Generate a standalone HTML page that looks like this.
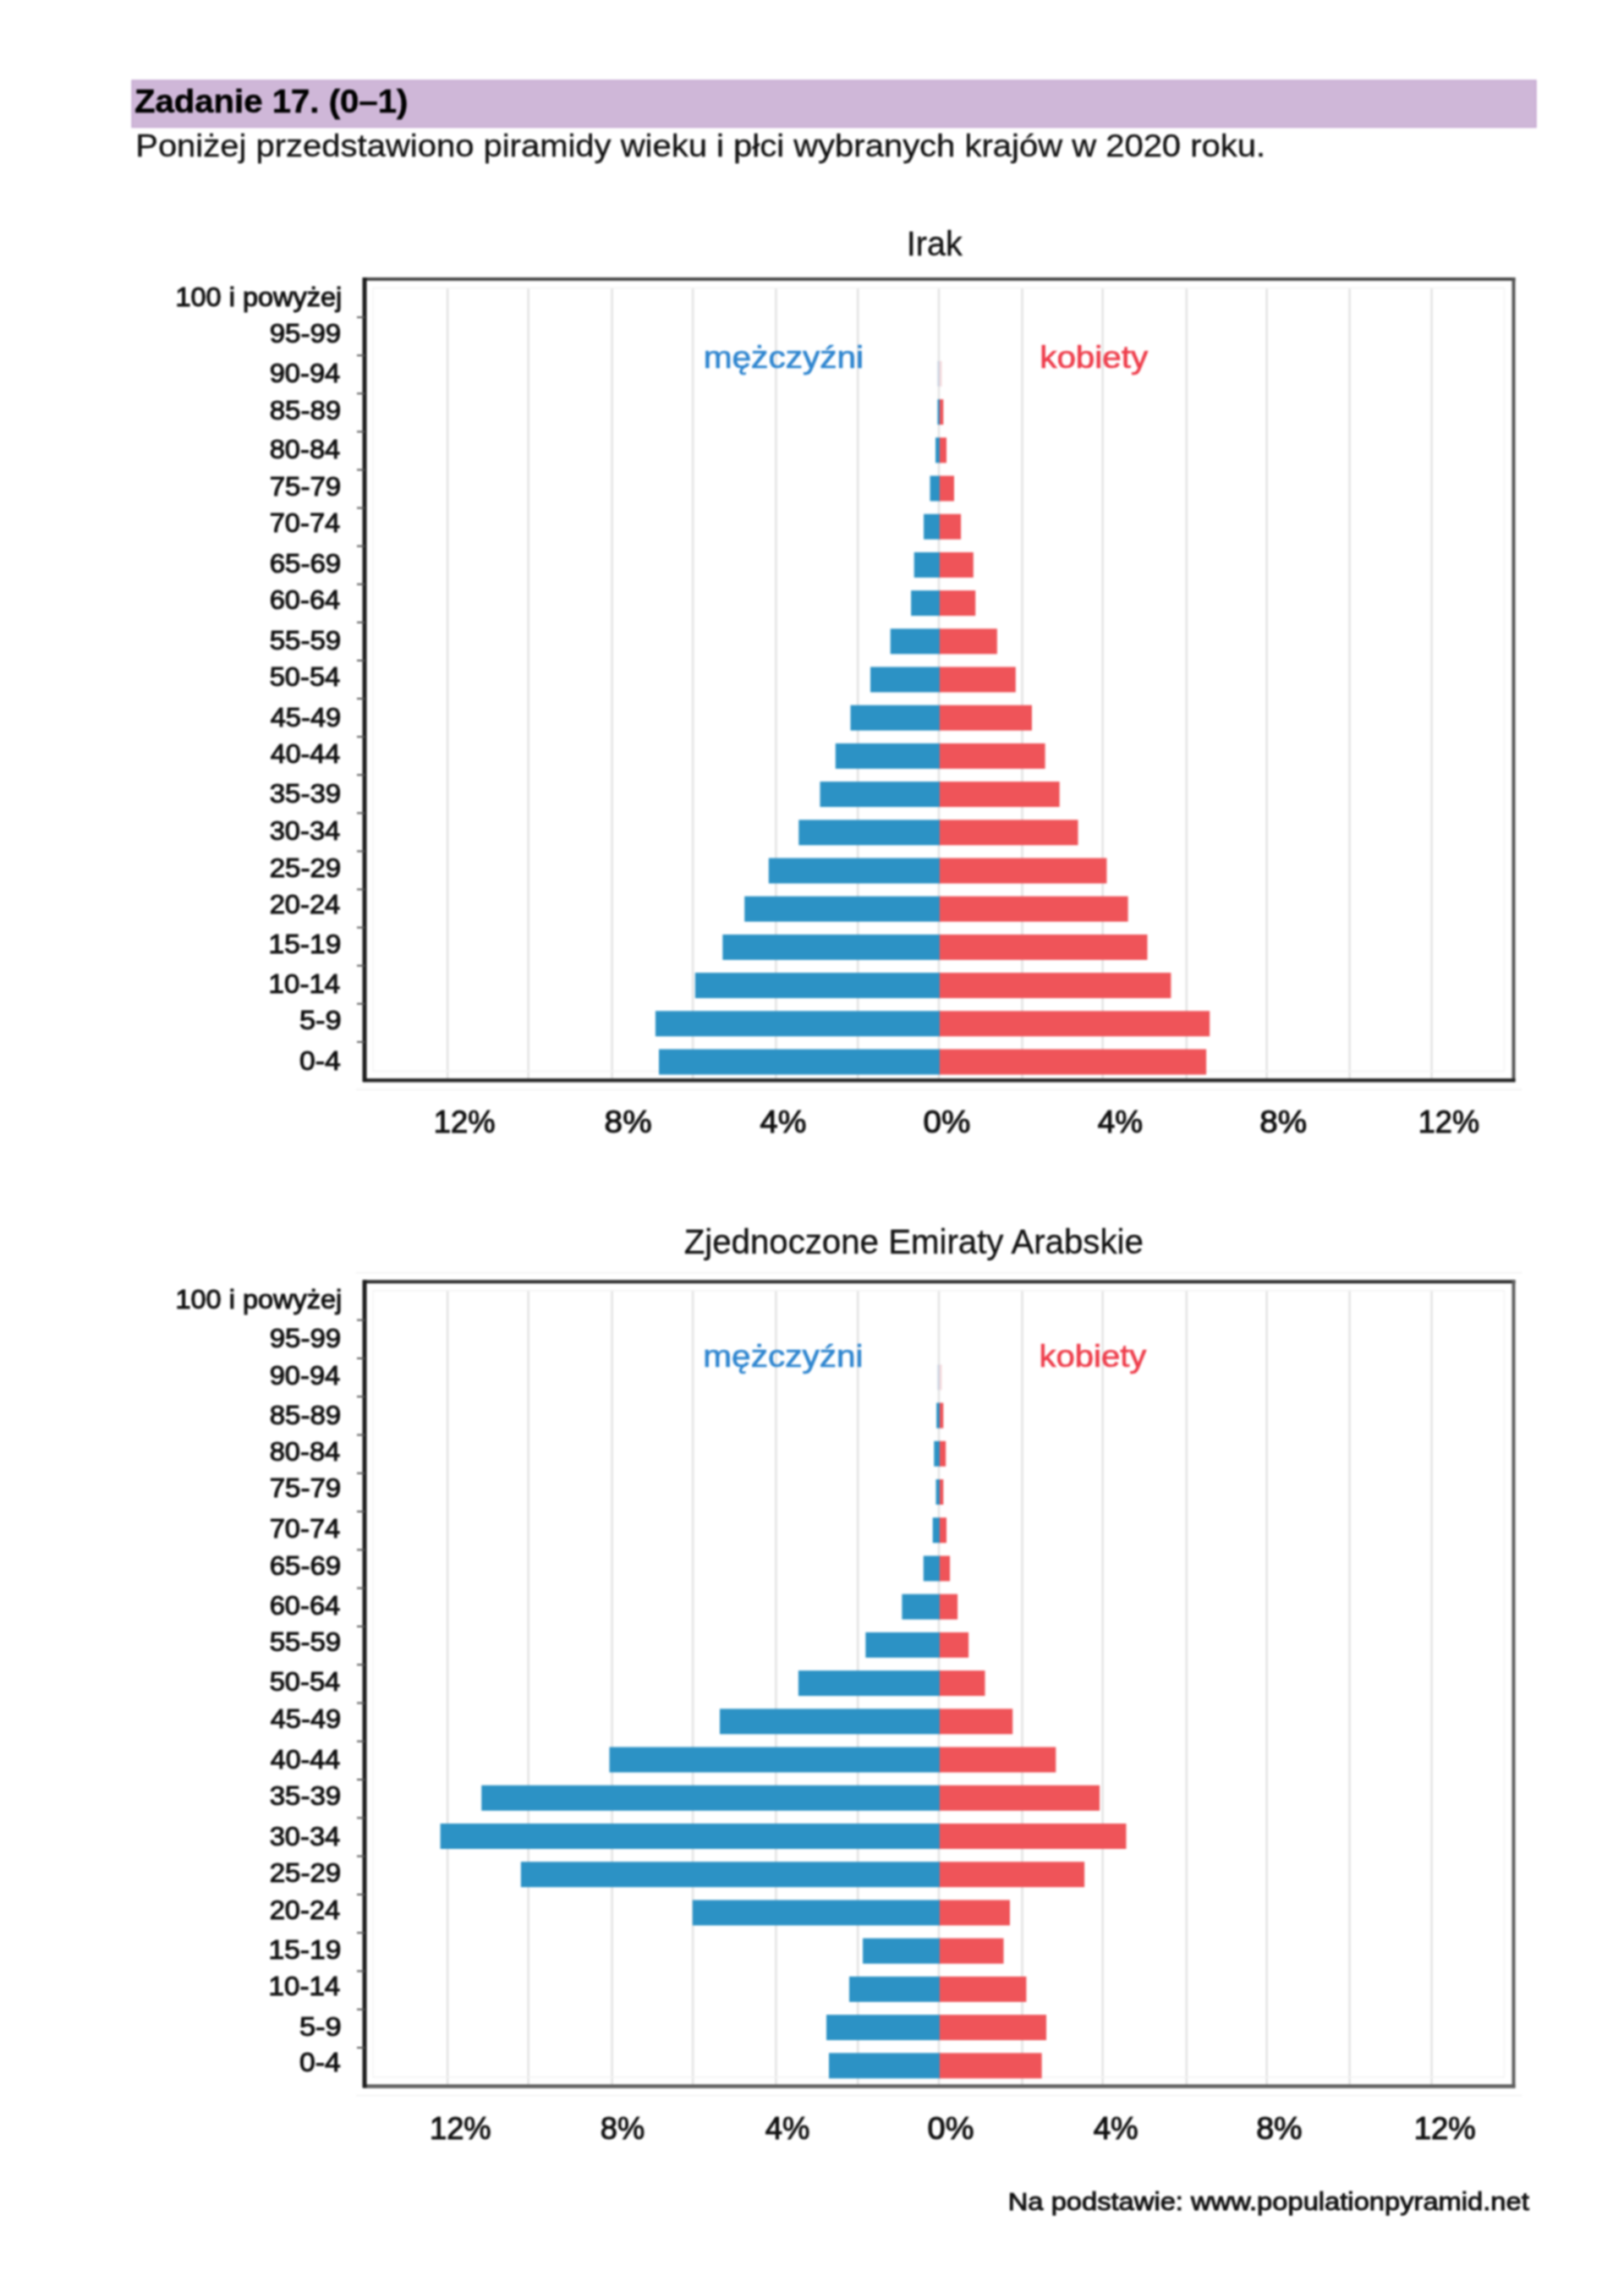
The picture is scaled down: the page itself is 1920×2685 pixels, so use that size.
<!DOCTYPE html>
<html><head><meta charset="utf-8"><title>Zadanie 17</title>
<style>
html,body{margin:0;padding:0;background:#fff;}
body{width:1920px;height:2685px;overflow:hidden;position:relative;}
svg{position:absolute;left:0;top:0;display:block;font-family:"Liberation Sans", sans-serif;filter:blur(1.0px);}
</style></head><body>
<svg width="1920" height="2685" viewBox="0 0 1920 2685">
<rect x="0" y="0" width="1920" height="2685" fill="#fff"/>
<rect x="156.00" y="95.00" width="1660.00" height="55.50" fill="#cfb7d8" stroke="#c6aad2" stroke-width="1.5"/>
<rect x="527.85" y="340.00" width="2.50" height="937.00" fill="#e3e3e3"/>
<rect x="623.45" y="340.00" width="2.50" height="937.00" fill="#e3e3e3"/>
<rect x="722.35" y="340.00" width="2.50" height="937.00" fill="#e3e3e3"/>
<rect x="817.85" y="340.00" width="2.50" height="937.00" fill="#e3e3e3"/>
<rect x="916.15" y="340.00" width="2.50" height="937.00" fill="#e3e3e3"/>
<rect x="1012.95" y="340.00" width="2.50" height="937.00" fill="#e3e3e3"/>
<rect x="1108.75" y="340.00" width="2.50" height="937.00" fill="#e3e3e3"/>
<rect x="1207.25" y="340.00" width="2.50" height="937.00" fill="#e3e3e3"/>
<rect x="1302.45" y="340.00" width="2.50" height="937.00" fill="#e3e3e3"/>
<rect x="1401.55" y="340.00" width="2.50" height="937.00" fill="#e3e3e3"/>
<rect x="1496.45" y="340.00" width="2.50" height="937.00" fill="#e3e3e3"/>
<rect x="1594.35" y="340.00" width="2.50" height="937.00" fill="#e3e3e3"/>
<rect x="1691.35" y="340.00" width="2.50" height="937.00" fill="#e3e3e3"/>
<rect x="441" y="340.5" width="1337.5" height="926" fill="none" stroke="#f3f3f3" stroke-width="1.5"/>
<rect x="1108.40" y="426.90" width="2.50" height="30.00" fill="#c9d3e2"/>
<rect x="1110.90" y="426.90" width="2.50" height="30.00" fill="#f6d6da"/>
<rect x="1108.40" y="472.10" width="3.30" height="30.00" fill="#2c92c5"/>
<rect x="1110.90" y="472.10" width="4.40" height="30.00" fill="#ef5459"/>
<rect x="1106.00" y="517.30" width="5.70" height="30.00" fill="#2c92c5"/>
<rect x="1110.90" y="517.30" width="8.10" height="30.00" fill="#ef5459"/>
<rect x="1099.50" y="562.50" width="12.20" height="30.00" fill="#2c92c5"/>
<rect x="1110.90" y="562.50" width="17.10" height="30.00" fill="#ef5459"/>
<rect x="1092.10" y="607.70" width="19.60" height="30.00" fill="#2c92c5"/>
<rect x="1110.90" y="607.70" width="25.20" height="30.00" fill="#ef5459"/>
<rect x="1080.70" y="652.90" width="31.00" height="30.00" fill="#2c92c5"/>
<rect x="1110.90" y="652.90" width="39.90" height="30.00" fill="#ef5459"/>
<rect x="1077.10" y="698.10" width="34.60" height="30.00" fill="#2c92c5"/>
<rect x="1110.90" y="698.10" width="42.30" height="30.00" fill="#ef5459"/>
<rect x="1052.70" y="743.30" width="59.00" height="30.00" fill="#2c92c5"/>
<rect x="1110.90" y="743.30" width="67.90" height="30.00" fill="#ef5459"/>
<rect x="1029.00" y="788.50" width="82.70" height="30.00" fill="#2c92c5"/>
<rect x="1110.90" y="788.50" width="89.90" height="30.00" fill="#ef5459"/>
<rect x="1005.50" y="833.70" width="106.20" height="30.00" fill="#2c92c5"/>
<rect x="1110.90" y="833.70" width="109.10" height="30.00" fill="#ef5459"/>
<rect x="987.80" y="878.90" width="123.90" height="30.00" fill="#2c92c5"/>
<rect x="1110.90" y="878.90" width="124.70" height="30.00" fill="#ef5459"/>
<rect x="969.50" y="924.10" width="142.20" height="30.00" fill="#2c92c5"/>
<rect x="1110.90" y="924.10" width="141.80" height="30.00" fill="#ef5459"/>
<rect x="944.30" y="969.30" width="167.40" height="30.00" fill="#2c92c5"/>
<rect x="1110.90" y="969.30" width="163.60" height="30.00" fill="#ef5459"/>
<rect x="908.80" y="1014.50" width="202.90" height="30.00" fill="#2c92c5"/>
<rect x="1110.90" y="1014.50" width="197.50" height="30.00" fill="#ef5459"/>
<rect x="880.20" y="1059.70" width="231.50" height="30.00" fill="#2c92c5"/>
<rect x="1110.90" y="1059.70" width="222.70" height="30.00" fill="#ef5459"/>
<rect x="854.30" y="1104.90" width="257.40" height="30.00" fill="#2c92c5"/>
<rect x="1110.90" y="1104.90" width="245.60" height="30.00" fill="#ef5459"/>
<rect x="821.80" y="1150.10" width="289.90" height="30.00" fill="#2c92c5"/>
<rect x="1110.90" y="1150.10" width="273.50" height="30.00" fill="#ef5459"/>
<rect x="774.90" y="1195.30" width="336.80" height="30.00" fill="#2c92c5"/>
<rect x="1110.90" y="1195.30" width="319.30" height="30.00" fill="#ef5459"/>
<rect x="779.00" y="1240.50" width="332.70" height="30.00" fill="#2c92c5"/>
<rect x="1110.90" y="1240.50" width="315.20" height="30.00" fill="#ef5459"/>
<rect x="421.00" y="1287.50" width="1378.50" height="1.50" fill="#f1f1f1"/>
<rect x="429.00" y="328.00" width="1362.50" height="4.00" fill="#4a4a4a"/>
<rect x="1787.50" y="328.00" width="4.00" height="951.00" fill="#555"/>
<rect x="429.00" y="1275.00" width="1362.50" height="4.50" fill="#262626"/>
<rect x="428.50" y="328.00" width="5.00" height="951.00" fill="#1a1a1a"/>
<rect x="422.00" y="374.10" width="9.00" height="2.00" fill="#5a5a5a"/>
<rect x="422.00" y="419.19" width="9.00" height="2.00" fill="#5a5a5a"/>
<rect x="422.00" y="464.29" width="9.00" height="2.00" fill="#5a5a5a"/>
<rect x="422.00" y="509.38" width="9.00" height="2.00" fill="#5a5a5a"/>
<rect x="422.00" y="554.48" width="9.00" height="2.00" fill="#5a5a5a"/>
<rect x="422.00" y="599.57" width="9.00" height="2.00" fill="#5a5a5a"/>
<rect x="422.00" y="644.67" width="9.00" height="2.00" fill="#5a5a5a"/>
<rect x="422.00" y="689.76" width="9.00" height="2.00" fill="#5a5a5a"/>
<rect x="422.00" y="734.86" width="9.00" height="2.00" fill="#5a5a5a"/>
<rect x="422.00" y="779.95" width="9.00" height="2.00" fill="#5a5a5a"/>
<rect x="422.00" y="825.05" width="9.00" height="2.00" fill="#5a5a5a"/>
<rect x="422.00" y="870.14" width="9.00" height="2.00" fill="#5a5a5a"/>
<rect x="422.00" y="915.24" width="9.00" height="2.00" fill="#5a5a5a"/>
<rect x="422.00" y="960.33" width="9.00" height="2.00" fill="#5a5a5a"/>
<rect x="422.00" y="1005.43" width="9.00" height="2.00" fill="#5a5a5a"/>
<rect x="422.00" y="1050.52" width="9.00" height="2.00" fill="#5a5a5a"/>
<rect x="422.00" y="1095.62" width="9.00" height="2.00" fill="#5a5a5a"/>
<rect x="422.00" y="1140.71" width="9.00" height="2.00" fill="#5a5a5a"/>
<rect x="422.00" y="1185.81" width="9.00" height="2.00" fill="#5a5a5a"/>
<rect x="422.00" y="1230.90" width="9.00" height="2.00" fill="#5a5a5a"/>
<rect x="527.85" y="1525.40" width="2.50" height="940.90" fill="#e3e3e3"/>
<rect x="623.45" y="1525.40" width="2.50" height="940.90" fill="#e3e3e3"/>
<rect x="722.35" y="1525.40" width="2.50" height="940.90" fill="#e3e3e3"/>
<rect x="817.85" y="1525.40" width="2.50" height="940.90" fill="#e3e3e3"/>
<rect x="916.15" y="1525.40" width="2.50" height="940.90" fill="#e3e3e3"/>
<rect x="1012.95" y="1525.40" width="2.50" height="940.90" fill="#e3e3e3"/>
<rect x="1108.75" y="1525.40" width="2.50" height="940.90" fill="#e3e3e3"/>
<rect x="1207.25" y="1525.40" width="2.50" height="940.90" fill="#e3e3e3"/>
<rect x="1302.45" y="1525.40" width="2.50" height="940.90" fill="#e3e3e3"/>
<rect x="1401.55" y="1525.40" width="2.50" height="940.90" fill="#e3e3e3"/>
<rect x="1496.45" y="1525.40" width="2.50" height="940.90" fill="#e3e3e3"/>
<rect x="1594.35" y="1525.40" width="2.50" height="940.90" fill="#e3e3e3"/>
<rect x="1691.35" y="1525.40" width="2.50" height="940.90" fill="#e3e3e3"/>
<rect x="441" y="1525.9" width="1337.5" height="929.9000000000001" fill="none" stroke="#f3f3f3" stroke-width="1.5"/>
<rect x="1108.40" y="1613.34" width="2.50" height="30.00" fill="#c9d3e2"/>
<rect x="1110.90" y="1613.34" width="2.50" height="30.00" fill="#f6d6da"/>
<rect x="1107.10" y="1658.56" width="4.60" height="30.00" fill="#2c92c5"/>
<rect x="1110.90" y="1658.56" width="4.40" height="30.00" fill="#ef5459"/>
<rect x="1104.30" y="1703.78" width="7.40" height="30.00" fill="#2c92c5"/>
<rect x="1110.90" y="1703.78" width="7.30" height="30.00" fill="#ef5459"/>
<rect x="1106.50" y="1749.00" width="5.20" height="30.00" fill="#2c92c5"/>
<rect x="1110.90" y="1749.00" width="4.40" height="30.00" fill="#ef5459"/>
<rect x="1102.70" y="1794.22" width="9.00" height="30.00" fill="#2c92c5"/>
<rect x="1110.90" y="1794.22" width="8.10" height="30.00" fill="#ef5459"/>
<rect x="1091.80" y="1839.44" width="19.90" height="30.00" fill="#2c92c5"/>
<rect x="1110.90" y="1839.44" width="12.20" height="30.00" fill="#ef5459"/>
<rect x="1066.40" y="1884.66" width="45.30" height="30.00" fill="#2c92c5"/>
<rect x="1110.90" y="1884.66" width="21.20" height="30.00" fill="#ef5459"/>
<rect x="1023.30" y="1929.88" width="88.40" height="30.00" fill="#2c92c5"/>
<rect x="1110.90" y="1929.88" width="34.20" height="30.00" fill="#ef5459"/>
<rect x="943.90" y="1975.10" width="167.80" height="30.00" fill="#2c92c5"/>
<rect x="1110.90" y="1975.10" width="53.60" height="30.00" fill="#ef5459"/>
<rect x="851.00" y="2020.32" width="260.70" height="30.00" fill="#2c92c5"/>
<rect x="1110.90" y="2020.32" width="86.30" height="30.00" fill="#ef5459"/>
<rect x="720.50" y="2065.54" width="391.20" height="30.00" fill="#2c92c5"/>
<rect x="1110.90" y="2065.54" width="137.40" height="30.00" fill="#ef5459"/>
<rect x="569.20" y="2110.76" width="542.50" height="30.00" fill="#2c92c5"/>
<rect x="1110.90" y="2110.76" width="189.20" height="30.00" fill="#ef5459"/>
<rect x="520.60" y="2155.98" width="591.10" height="30.00" fill="#2c92c5"/>
<rect x="1110.90" y="2155.98" width="220.60" height="30.00" fill="#ef5459"/>
<rect x="615.80" y="2201.20" width="495.90" height="30.00" fill="#2c92c5"/>
<rect x="1110.90" y="2201.20" width="171.20" height="30.00" fill="#ef5459"/>
<rect x="818.80" y="2246.42" width="292.90" height="30.00" fill="#2c92c5"/>
<rect x="1110.90" y="2246.42" width="83.10" height="30.00" fill="#ef5459"/>
<rect x="1020.10" y="2291.64" width="91.60" height="30.00" fill="#2c92c5"/>
<rect x="1110.90" y="2291.64" width="75.60" height="30.00" fill="#ef5459"/>
<rect x="1004.00" y="2336.86" width="107.70" height="30.00" fill="#2c92c5"/>
<rect x="1110.90" y="2336.86" width="102.50" height="30.00" fill="#ef5459"/>
<rect x="977.00" y="2382.08" width="134.70" height="30.00" fill="#2c92c5"/>
<rect x="1110.90" y="2382.08" width="126.10" height="30.00" fill="#ef5459"/>
<rect x="980.00" y="2427.30" width="131.70" height="30.00" fill="#2c92c5"/>
<rect x="1110.90" y="2427.30" width="120.70" height="30.00" fill="#ef5459"/>
<rect x="421.00" y="2476.80" width="1378.50" height="1.50" fill="#f1f1f1"/>
<rect x="421.00" y="1503.90" width="1378.50" height="1.50" fill="#f1f1f1"/>
<rect x="429.00" y="1513.40" width="1362.50" height="4.00" fill="#2a2a2a"/>
<rect x="1787.50" y="1513.40" width="4.00" height="954.90" fill="#5e5e5e"/>
<rect x="429.00" y="2464.30" width="1362.50" height="4.50" fill="#5e5e5e"/>
<rect x="428.50" y="1513.40" width="5.00" height="954.90" fill="#1a1a1a"/>
<rect x="422.00" y="1559.68" width="9.00" height="2.00" fill="#5a5a5a"/>
<rect x="422.00" y="1604.96" width="9.00" height="2.00" fill="#5a5a5a"/>
<rect x="422.00" y="1650.24" width="9.00" height="2.00" fill="#5a5a5a"/>
<rect x="422.00" y="1695.52" width="9.00" height="2.00" fill="#5a5a5a"/>
<rect x="422.00" y="1740.80" width="9.00" height="2.00" fill="#5a5a5a"/>
<rect x="422.00" y="1786.09" width="9.00" height="2.00" fill="#5a5a5a"/>
<rect x="422.00" y="1831.37" width="9.00" height="2.00" fill="#5a5a5a"/>
<rect x="422.00" y="1876.65" width="9.00" height="2.00" fill="#5a5a5a"/>
<rect x="422.00" y="1921.93" width="9.00" height="2.00" fill="#5a5a5a"/>
<rect x="422.00" y="1967.21" width="9.00" height="2.00" fill="#5a5a5a"/>
<rect x="422.00" y="2012.49" width="9.00" height="2.00" fill="#5a5a5a"/>
<rect x="422.00" y="2057.77" width="9.00" height="2.00" fill="#5a5a5a"/>
<rect x="422.00" y="2103.05" width="9.00" height="2.00" fill="#5a5a5a"/>
<rect x="422.00" y="2148.33" width="9.00" height="2.00" fill="#5a5a5a"/>
<rect x="422.00" y="2193.61" width="9.00" height="2.00" fill="#5a5a5a"/>
<rect x="422.00" y="2238.90" width="9.00" height="2.00" fill="#5a5a5a"/>
<rect x="422.00" y="2284.18" width="9.00" height="2.00" fill="#5a5a5a"/>
<rect x="422.00" y="2329.46" width="9.00" height="2.00" fill="#5a5a5a"/>
<rect x="422.00" y="2374.74" width="9.00" height="2.00" fill="#5a5a5a"/>
<rect x="422.00" y="2420.02" width="9.00" height="2.00" fill="#5a5a5a"/>
<text x="158.94" y="132.75" font-size="38" font-weight="bold" fill="#000" stroke="#000" stroke-width="0.5" textLength="323.38" lengthAdjust="spacingAndGlyphs">Zadanie 17. (0–1)</text>
<text x="160.21" y="184.62" font-size="36.5" font-weight="normal" fill="#111" stroke="#111" stroke-width="0.35" textLength="1335.95" lengthAdjust="spacingAndGlyphs">Poniżej przedstawiono piramidy wieku i płci wybranych krajów w 2020 roku.</text>
<text x="207.47" y="361.55" font-size="32" font-weight="normal" fill="#111" stroke="#111" stroke-width="1.1" textLength="196.85" lengthAdjust="spacingAndGlyphs">100 i powyżej</text>
<text x="318.67" y="404.60" font-size="32" font-weight="normal" fill="#111" stroke="#111" stroke-width="1.1" textLength="84.61" lengthAdjust="spacingAndGlyphs">95-99</text>
<text x="318.68" y="451.80" font-size="32" font-weight="normal" fill="#111" stroke="#111" stroke-width="1.1" textLength="83.56" lengthAdjust="spacingAndGlyphs">90-94</text>
<text x="318.67" y="495.50" font-size="32" font-weight="normal" fill="#111" stroke="#111" stroke-width="1.1" textLength="84.61" lengthAdjust="spacingAndGlyphs">85-89</text>
<text x="318.68" y="541.90" font-size="32" font-weight="normal" fill="#111" stroke="#111" stroke-width="1.1" textLength="83.56" lengthAdjust="spacingAndGlyphs">80-84</text>
<text x="318.67" y="586.20" font-size="32" font-weight="normal" fill="#111" stroke="#111" stroke-width="1.1" textLength="84.61" lengthAdjust="spacingAndGlyphs">75-79</text>
<text x="318.68" y="629.40" font-size="32" font-weight="normal" fill="#111" stroke="#111" stroke-width="1.1" textLength="83.56" lengthAdjust="spacingAndGlyphs">70-74</text>
<text x="318.67" y="677.40" font-size="32" font-weight="normal" fill="#111" stroke="#111" stroke-width="1.1" textLength="84.61" lengthAdjust="spacingAndGlyphs">65-69</text>
<text x="318.68" y="720.40" font-size="32" font-weight="normal" fill="#111" stroke="#111" stroke-width="1.1" textLength="83.56" lengthAdjust="spacingAndGlyphs">60-64</text>
<text x="318.67" y="768.40" font-size="32" font-weight="normal" fill="#111" stroke="#111" stroke-width="1.1" textLength="84.61" lengthAdjust="spacingAndGlyphs">55-59</text>
<text x="318.68" y="811.10" font-size="32" font-weight="normal" fill="#111" stroke="#111" stroke-width="1.1" textLength="83.56" lengthAdjust="spacingAndGlyphs">50-54</text>
<text x="319.70" y="858.80" font-size="32" font-weight="normal" fill="#111" stroke="#111" stroke-width="1.1" textLength="83.56" lengthAdjust="spacingAndGlyphs">45-49</text>
<text x="319.70" y="901.90" font-size="32" font-weight="normal" fill="#111" stroke="#111" stroke-width="1.1" textLength="82.54" lengthAdjust="spacingAndGlyphs">40-44</text>
<text x="318.67" y="949.20" font-size="32" font-weight="normal" fill="#111" stroke="#111" stroke-width="1.1" textLength="84.61" lengthAdjust="spacingAndGlyphs">35-39</text>
<text x="318.68" y="992.60" font-size="32" font-weight="normal" fill="#111" stroke="#111" stroke-width="1.1" textLength="83.56" lengthAdjust="spacingAndGlyphs">30-34</text>
<text x="318.67" y="1036.60" font-size="32" font-weight="normal" fill="#111" stroke="#111" stroke-width="1.1" textLength="84.61" lengthAdjust="spacingAndGlyphs">25-29</text>
<text x="318.68" y="1080.30" font-size="32" font-weight="normal" fill="#111" stroke="#111" stroke-width="1.1" textLength="83.56" lengthAdjust="spacingAndGlyphs">20-24</text>
<text x="317.61" y="1126.90" font-size="32" font-weight="normal" fill="#111" stroke="#111" stroke-width="1.1" textLength="85.68" lengthAdjust="spacingAndGlyphs">15-19</text>
<text x="317.63" y="1174.20" font-size="32" font-weight="normal" fill="#111" stroke="#111" stroke-width="1.1" textLength="84.61" lengthAdjust="spacingAndGlyphs">10-14</text>
<text x="353.92" y="1217.40" font-size="32" font-weight="normal" fill="#111" stroke="#111" stroke-width="1.1" textLength="49.82" lengthAdjust="spacingAndGlyphs">5-9</text>
<text x="353.95" y="1265.20" font-size="32" font-weight="normal" fill="#111" stroke="#111" stroke-width="1.1" textLength="48.72" lengthAdjust="spacingAndGlyphs">0-4</text>
<text x="1071.84" y="302.32" font-size="40" font-weight="normal" fill="#111" stroke="#111" stroke-width="0.35" textLength="65.85" lengthAdjust="spacingAndGlyphs">Irak</text>
<text x="831.78" y="435.15" font-size="36.5" font-weight="normal" fill="#2e85cf" stroke="#2e85cf" stroke-width="0.7" textLength="189.36" lengthAdjust="spacingAndGlyphs">mężczyźni</text>
<text x="1229.19" y="435.15" font-size="36.5" font-weight="normal" fill="#ee3e4c" stroke="#ee3e4c" stroke-width="0.7" textLength="128.03" lengthAdjust="spacingAndGlyphs">kobiety</text>
<text x="512.78" y="1339.45" font-size="36" font-weight="normal" fill="#111" stroke="#111" stroke-width="1.1" textLength="72.69" lengthAdjust="spacingAndGlyphs">12%</text>
<text x="714.63" y="1339.45" font-size="36" font-weight="normal" fill="#111" stroke="#111" stroke-width="1.1" textLength="55.88" lengthAdjust="spacingAndGlyphs">8%</text>
<text x="898.60" y="1339.45" font-size="36" font-weight="normal" fill="#111" stroke="#111" stroke-width="1.1" textLength="54.68" lengthAdjust="spacingAndGlyphs">4%</text>
<text x="1091.53" y="1339.45" font-size="36" font-weight="normal" fill="#111" stroke="#111" stroke-width="1.1" textLength="55.78" lengthAdjust="spacingAndGlyphs">0%</text>
<text x="1297.80" y="1339.45" font-size="36" font-weight="normal" fill="#111" stroke="#111" stroke-width="1.1" textLength="53.36" lengthAdjust="spacingAndGlyphs">4%</text>
<text x="1489.33" y="1339.45" font-size="36" font-weight="normal" fill="#111" stroke="#111" stroke-width="1.1" textLength="55.78" lengthAdjust="spacingAndGlyphs">8%</text>
<text x="1676.79" y="1339.45" font-size="36" font-weight="normal" fill="#111" stroke="#111" stroke-width="1.1" textLength="72.27" lengthAdjust="spacingAndGlyphs">12%</text>
<text x="207.47" y="1546.65" font-size="32" font-weight="normal" fill="#111" stroke="#111" stroke-width="1.1" textLength="196.85" lengthAdjust="spacingAndGlyphs">100 i powyżej</text>
<text x="318.67" y="1593.10" font-size="32" font-weight="normal" fill="#111" stroke="#111" stroke-width="1.1" textLength="84.61" lengthAdjust="spacingAndGlyphs">95-99</text>
<text x="318.68" y="1636.80" font-size="32" font-weight="normal" fill="#111" stroke="#111" stroke-width="1.1" textLength="83.56" lengthAdjust="spacingAndGlyphs">90-94</text>
<text x="318.67" y="1683.80" font-size="32" font-weight="normal" fill="#111" stroke="#111" stroke-width="1.1" textLength="84.61" lengthAdjust="spacingAndGlyphs">85-89</text>
<text x="318.68" y="1726.90" font-size="32" font-weight="normal" fill="#111" stroke="#111" stroke-width="1.1" textLength="83.56" lengthAdjust="spacingAndGlyphs">80-84</text>
<text x="318.67" y="1770.30" font-size="32" font-weight="normal" fill="#111" stroke="#111" stroke-width="1.1" textLength="84.61" lengthAdjust="spacingAndGlyphs">75-79</text>
<text x="318.68" y="1818.30" font-size="32" font-weight="normal" fill="#111" stroke="#111" stroke-width="1.1" textLength="83.56" lengthAdjust="spacingAndGlyphs">70-74</text>
<text x="318.67" y="1862.30" font-size="32" font-weight="normal" fill="#111" stroke="#111" stroke-width="1.1" textLength="84.61" lengthAdjust="spacingAndGlyphs">65-69</text>
<text x="318.68" y="1908.90" font-size="32" font-weight="normal" fill="#111" stroke="#111" stroke-width="1.1" textLength="83.56" lengthAdjust="spacingAndGlyphs">60-64</text>
<text x="318.67" y="1952.30" font-size="32" font-weight="normal" fill="#111" stroke="#111" stroke-width="1.1" textLength="84.61" lengthAdjust="spacingAndGlyphs">55-59</text>
<text x="318.68" y="1999.00" font-size="32" font-weight="normal" fill="#111" stroke="#111" stroke-width="1.1" textLength="83.56" lengthAdjust="spacingAndGlyphs">50-54</text>
<text x="319.70" y="2043.00" font-size="32" font-weight="normal" fill="#111" stroke="#111" stroke-width="1.1" textLength="83.56" lengthAdjust="spacingAndGlyphs">45-49</text>
<text x="319.70" y="2091.00" font-size="32" font-weight="normal" fill="#111" stroke="#111" stroke-width="1.1" textLength="82.54" lengthAdjust="spacingAndGlyphs">40-44</text>
<text x="318.67" y="2134.10" font-size="32" font-weight="normal" fill="#111" stroke="#111" stroke-width="1.1" textLength="84.61" lengthAdjust="spacingAndGlyphs">35-39</text>
<text x="318.68" y="2181.70" font-size="32" font-weight="normal" fill="#111" stroke="#111" stroke-width="1.1" textLength="83.56" lengthAdjust="spacingAndGlyphs">30-34</text>
<text x="318.67" y="2224.50" font-size="32" font-weight="normal" fill="#111" stroke="#111" stroke-width="1.1" textLength="84.61" lengthAdjust="spacingAndGlyphs">25-29</text>
<text x="318.68" y="2268.50" font-size="32" font-weight="normal" fill="#111" stroke="#111" stroke-width="1.1" textLength="83.56" lengthAdjust="spacingAndGlyphs">20-24</text>
<text x="317.61" y="2316.20" font-size="32" font-weight="normal" fill="#111" stroke="#111" stroke-width="1.1" textLength="85.68" lengthAdjust="spacingAndGlyphs">15-19</text>
<text x="317.63" y="2358.90" font-size="32" font-weight="normal" fill="#111" stroke="#111" stroke-width="1.1" textLength="84.61" lengthAdjust="spacingAndGlyphs">10-14</text>
<text x="353.92" y="2406.50" font-size="32" font-weight="normal" fill="#111" stroke="#111" stroke-width="1.1" textLength="49.82" lengthAdjust="spacingAndGlyphs">5-9</text>
<text x="353.95" y="2449.40" font-size="32" font-weight="normal" fill="#111" stroke="#111" stroke-width="1.1" textLength="48.72" lengthAdjust="spacingAndGlyphs">0-4</text>
<text x="808.69" y="1482.33" font-size="40" font-weight="normal" fill="#111" stroke="#111" stroke-width="0.35" textLength="543.18" lengthAdjust="spacingAndGlyphs">Zjednoczone Emiraty Arabskie</text>
<text x="831.38" y="1615.65" font-size="36.5" font-weight="normal" fill="#2e85cf" stroke="#2e85cf" stroke-width="0.7" textLength="189.05" lengthAdjust="spacingAndGlyphs">mężczyźni</text>
<text x="1228.51" y="1615.65" font-size="36.5" font-weight="normal" fill="#ee3e4c" stroke="#ee3e4c" stroke-width="0.7" textLength="126.82" lengthAdjust="spacingAndGlyphs">kobiety</text>
<text x="507.98" y="2529.45" font-size="36" font-weight="normal" fill="#111" stroke="#111" stroke-width="1.1" textLength="72.69" lengthAdjust="spacingAndGlyphs">12%</text>
<text x="709.79" y="2529.45" font-size="36" font-weight="normal" fill="#111" stroke="#111" stroke-width="1.1" textLength="52.45" lengthAdjust="spacingAndGlyphs">8%</text>
<text x="904.70" y="2529.45" font-size="36" font-weight="normal" fill="#111" stroke="#111" stroke-width="1.1" textLength="52.64" lengthAdjust="spacingAndGlyphs">4%</text>
<text x="1096.54" y="2529.45" font-size="36" font-weight="normal" fill="#111" stroke="#111" stroke-width="1.1" textLength="54.95" lengthAdjust="spacingAndGlyphs">0%</text>
<text x="1292.70" y="2529.45" font-size="36" font-weight="normal" fill="#111" stroke="#111" stroke-width="1.1" textLength="53.05" lengthAdjust="spacingAndGlyphs">4%</text>
<text x="1485.15" y="2529.45" font-size="36" font-weight="normal" fill="#111" stroke="#111" stroke-width="1.1" textLength="54.53" lengthAdjust="spacingAndGlyphs">8%</text>
<text x="1671.77" y="2529.45" font-size="36" font-weight="normal" fill="#111" stroke="#111" stroke-width="1.1" textLength="73.00" lengthAdjust="spacingAndGlyphs">12%</text>
<text x="1191.75" y="2613.10" font-size="29" font-weight="normal" fill="#111" stroke="#111" stroke-width="1.0" textLength="616.06" lengthAdjust="spacingAndGlyphs">Na podstawie: www.populationpyramid.net</text>
</svg>
</body></html>
